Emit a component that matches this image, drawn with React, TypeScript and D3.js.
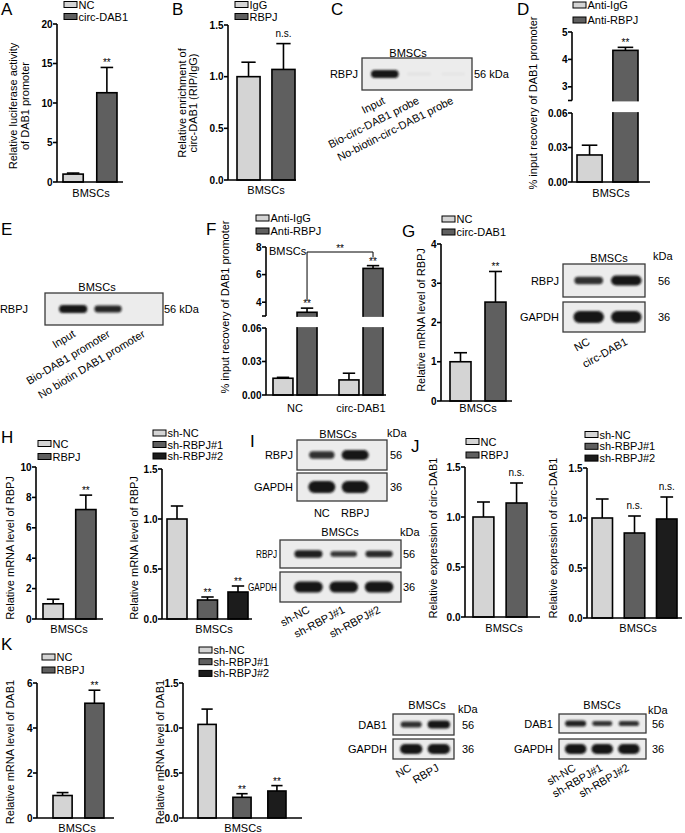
import React from "react";
import * as d3 from "d3";

const FONT = "'Liberation Sans', Arial, Helvetica, sans-serif";
const LIGHT = "#d4d4d4";
const DARK = "#5f5f5f";
const BLACK = "#1c1c1c";

// ---------- data ----------
const A_categories = ["NC", "circ-DAB1"];
const A_values = [1.0, 11.3];
const A_errors = [0.13, 3.2];
const A_sig = ["", "**"];
const A_ticks = [0, 5, 10, 15, 20];

const B_categories = ["IgG", "RBPJ"];
const B_values = [1.0, 1.07];
const B_errors = [0.14, 0.25];
const B_sig = ["", "n.s."];
const B_ticks = [0, 0.5, 1.0, 1.5];

const C_lanes = ["Input", "Bio-circ-DAB1 probe", "No-biotin-circ-DAB1 probe"];
const C_RBPJ = [1.0, 0.03, 0.02];

const D_categories = ["Anti-IgG", "Anti-RBPJ"];
const D_values = [0.0235, 4.33];
const D_errors = [0.0085, 0.11];
const D_sig = ["", "**"];
const D_lowTicks = [0, 0.03, 0.06];
const D_highTicks = [3, 4, 5];

const E_lanes = ["Input", "Bio-DAB1 promoter", "No biotin DAB1 promoter"];
const E_RBPJ = [1.0, 0.75, 0.0];

const F_groups = ["NC", "circ-DAB1"];
const F_series = ["Anti-IgG", "Anti-RBPJ"];
const F_IgG = [0.015, 0.0135];
const F_IgG_err = [0.0008, 0.006];
const F_RBPJ = [3.27, 6.45];
const F_RBPJ_err = [0.3, 0.2];
const F_lowTicks = [0, 0.03, 0.06];
const F_highTicks = [4, 6, 8];

const G_categories = ["NC", "circ-DAB1"];
const G_values = [1.0, 2.52];
const G_errors = [0.23, 0.78];
const G_sig = ["", "**"];
const G_ticks = [0, 1, 2, 3, 4];
const G_lanes = ["NC", "circ-DAB1"];
const G_RBPJ = [0.55, 1.0];
const G_GAPDH = [1.0, 1.0];

const H1_categories = ["NC", "RBPJ"];
const H1_values = [1.0, 7.2];
const H1_errors = [0.3, 0.95];
const H1_sig = ["", "**"];
const H1_ticks = [0, 2, 4, 6, 8, 10];

const H2_categories = ["sh-NC", "sh-RBPJ#1", "sh-RBPJ#2"];
const H2_values = [1.0, 0.19, 0.27];
const H2_errors = [0.13, 0.03, 0.06];
const H2_sig = ["", "**", "**"];
const H2_ticks = [0, 0.5, 1.0, 1.5];

const I1_lanes = ["NC", "RBPJ"];
const I1_RBPJ = [0.55, 1.0];
const I1_GAPDH = [1.0, 1.0];
const I2_lanes = ["sh-NC", "sh-RBPJ#1", "sh-RBPJ#2"];
const I2_RBPJ = [0.85, 0.45, 0.65];
const I2_GAPDH = [1.0, 1.0, 1.0];

const J1_categories = ["NC", "RBPJ"];
const J1_values = [1.0, 1.14];
const J1_errors = [0.15, 0.2];
const J1_sig = ["", "n.s."];
const J2_categories = ["sh-NC", "sh-RBPJ#1", "sh-RBPJ#2"];
const J2_values = [1.0, 0.85, 0.99];
const J2_errors = [0.19, 0.17, 0.22];
const J2_sig = ["", "n.s.", "n.s."];
const J_ticks = [0, 0.5, 1.0, 1.5];

const K1_categories = ["NC", "RBPJ"];
const K1_values = [1.0, 5.1];
const K1_errors = [0.13, 0.58];
const K1_sig = ["", "**"];
const K1_ticks = [0, 2, 4, 6];
const K2_categories = ["sh-NC", "sh-RBPJ#1", "sh-RBPJ#2"];
const K2_values = [1.04, 0.23, 0.3];
const K2_errors = [0.17, 0.04, 0.06];
const K2_sig = ["", "**", "**"];
const K2_ticks = [0, 0.5, 1.0, 1.5];
const K3_lanes = ["NC", "RBPJ"];
const K3_DAB1 = [0.55, 1.0];
const K3_GAPDH = [1.0, 1.0];
const K4_lanes = ["sh-NC", "sh-RBPJ#1", "sh-RBPJ#2"];
const K4_DAB1 = [0.8, 0.5, 0.55];
const K4_GAPDH = [1.0, 1.0, 1.0];

const COL2 = [LIGHT, DARK];
const COL3 = [LIGHT, DARK, BLACK];

// ---------- shared pieces ----------
function Legend({ items, colors, x, y, dy }: { items: string[]; colors: string[]; x: number; y: number; dy: number }) {
  return (
    <g>
      {items.map((t, i) => (
        <g key={t}>
          <rect x={x} y={y + i * dy - 3} width={13} height={6} fill={colors[i]} stroke="#000" strokeWidth={1} />
          <text x={x + 14.5} y={y + i * dy + 4} fontSize={11} fill="#000">{t}</text>
        </g>
      ))}
    </g>
  );
}

function YTitle({ lines, xs, cy }: { lines: string[]; xs: number[]; cy: number }) {
  return (
    <g>
      {lines.map((l, i) => (
        <text key={i} transform={`translate(${xs[i]},${cy}) rotate(-90)`} textAnchor="middle" fontSize={11} fill="#000">{l}</text>
      ))}
    </g>
  );
}

function Sig({ x, yTop, t }: { x: number; yTop: number; t: string }) {
  if (!t) return null;
  const isStar = t.includes("*");
  return (
    <text x={x} y={isStar ? yTop - 1 : yTop - 7} textAnchor="middle" fontSize={10} fill="#000">{t}</text>
  );
}

function ErrBar({ x, y1, y2, w }: { x: number; y1: number; y2: number; w: number }) {
  return (
    <g stroke="#000" strokeWidth={1.6}>
      <line x1={x} x2={x} y1={y1} y2={y2} />
      <line x1={x - w / 2} x2={x + w / 2} y1={y2} y2={y2} />
    </g>
  );
}

type BarProps = {
  categories: string[]; values: number[]; errors: number[]; sig: string[]; colors: string[];
  ticks: number[]; fmt: string; max: number;
  axisX: number; yTop: number; y0: number; xEnd: number; barRange: [number, number]; pad: number;
  legend: { x: number; y: number; dy: number };
  title: { lines: string[]; xs: number[]; cy: number };
  xlabel: { text: string; x: number; y: number };
};

function BarChart(p: BarProps) {
  const y = d3.scaleLinear().domain([0, p.max]).range([p.y0, p.yTop]);
  const x = d3.scaleBand<string>().domain(p.categories).range(p.barRange).paddingInner(p.pad).paddingOuter(0);
  const f = d3.format(p.fmt);
  const bw = x.bandwidth();
  return (
    <g>
      <Legend items={p.categories} colors={p.colors} x={p.legend.x} y={p.legend.y} dy={p.legend.dy} />
      <YTitle {...p.title} />
      {p.categories.map((c, i) => {
        const x0 = x(c)!;
        const cx = x0 + bw / 2;
        const top = y(p.values[i]);
        const et = y(p.values[i] + p.errors[i]);
        return (
          <g key={c}>
            <ErrBar x={cx} y1={top} y2={et} w={bw * 0.62} />
            <rect x={x0} y={top} width={bw} height={p.y0 - top} fill={p.colors[i]} stroke="#000" strokeWidth={1.6} />
            <Sig x={cx} yTop={et} t={p.sig[i]} />
          </g>
        );
      })}
      <g stroke="#000" strokeWidth={1.6}>
        <line x1={p.axisX} x2={p.axisX} y1={p.y0} y2={p.yTop} />
        <line x1={p.axisX} x2={p.xEnd} y1={p.y0} y2={p.y0} />
        {p.ticks.map((t) => (
          <line key={t} x1={p.axisX - 4} x2={p.axisX} y1={y(t)} y2={y(t)} />
        ))}
      </g>
      {p.ticks.map((t) => (
        <text key={t} x={p.axisX - 4.5} y={y(t) + 3.6} textAnchor="end" fontSize={10} fontWeight="bold" fill="#000">{f(t)}</text>
      ))}
      <text x={p.xlabel.x} y={p.xlabel.y} textAnchor="middle" fontSize={11} fill="#000">{p.xlabel.text}</text>
    </g>
  );
}

type BlotRow = { name: string; vals: number[]; y0: number; y1: number; kda: string; bandH: number; nameLen?: number };
type BlotProps = {
  lanes: string[]; laneRange: [number, number]; x0: number; x1: number; rows: BlotRow[];
  title: { x: number; y: number }; kdaHead?: { x: number; y: number }; kdaX: number; nameX: number;
  labels: { rotate: number; dx: number; dy: number };
};

function Blot(p: BlotProps) {
  const x = d3.scaleBand<string>().domain(p.lanes).range(p.laneRange).padding(0.1);
  const bw = x.bandwidth();
  const bottom = p.rows[p.rows.length - 1].y1;
  return (
    <g>
      <text x={p.title.x} y={p.title.y} textAnchor="middle" fontSize={11} fill="#000">BMSCs</text>
      {p.kdaHead && <text x={p.kdaHead.x} y={p.kdaHead.y} fontSize={11} fill="#000">kDa</text>}
      {p.rows.map((r) => {
        const cy = (r.y0 + r.y1) / 2;
        return (
          <g key={r.name + r.y0}>
            <rect x={p.x0} y={r.y0} width={p.x1 - p.x0} height={r.y1 - r.y0} fill="#ececec" stroke="#3a3a3a" strokeWidth={1.3} />
            {p.lanes.map((l, i) => {
              const v = r.vals[i];
              if (v <= 0.001) return null;
              const w = bw * (0.78 + 0.12 * v);
              const h = r.bandH * (0.4 + 0.6 * v);
              const cx = x(l)! + bw / 2;
              const op = v < 0.2 ? v * 1.2 : 0.72 + 0.28 * v;
              return (
                <rect key={l} x={cx - w / 2} y={cy - h / 2} width={w} height={h} rx={h / 2} ry={h / 2}
                  fill="#141414" opacity={op} filter="url(#bandblur)" />
              );
            })}
            {r.nameLen ? (
              <text x={p.nameX} y={cy + 4} textAnchor="end" fontSize={11} fill="#000"
                textLength={r.nameLen} lengthAdjust="spacingAndGlyphs">{r.name}</text>
            ) : (
              <text x={p.nameX} y={cy + 4} textAnchor="end" fontSize={11} fill="#000">{r.name}</text>
            )}
            <text x={p.kdaX} y={cy + 4} fontSize={11} fill="#000">{r.kda}</text>
          </g>
        );
      })}
      {p.lanes.map((l) => {
        const cx = x(l)! + bw / 2;
        if (p.labels.rotate === 0) {
          return <text key={l} x={cx} y={bottom + p.labels.dy} textAnchor="middle" fontSize={11} fill="#000">{l}</text>;
        }
        const ax = cx + p.labels.dx;
        const ay = bottom + p.labels.dy;
        return (
          <text key={l} transform={`translate(${ax},${ay}) rotate(${p.labels.rotate})`} textAnchor="end" fontSize={11} fill="#000">{l}</text>
        );
      })}
    </g>
  );
}

type BrokenProps = {
  axisX: number; y0: number; lowTop: number; highBottom: number; highTop: number;
  lowMax: number; highMin: number; highMax: number; lowTicks: number[]; highTicks: number[]; xEnd: number;
};

function BrokenAxis(p: BrokenProps & { lowFmt: string; highFmt: string }) {
  const yl = d3.scaleLinear().domain([0, p.lowMax]).range([p.y0, p.lowTop]);
  const yh = d3.scaleLinear().domain([p.highMin, p.highMax]).range([p.highBottom, p.highTop]);
  const fl = d3.format(p.lowFmt);
  const fh = d3.format(p.highFmt);
  return (
    <g>
      <g stroke="#000" strokeWidth={1.6}>
        <line x1={p.axisX} x2={p.axisX} y1={p.y0} y2={p.lowTop} />
        <line x1={p.axisX} x2={p.axisX} y1={p.highBottom} y2={p.highTop} />
        <line x1={p.axisX} x2={p.xEnd} y1={p.y0} y2={p.y0} />
        {p.lowTicks.map((t) => <line key={"l" + t} x1={p.axisX - 4} x2={p.axisX} y1={yl(t)} y2={yl(t)} />)}
        {[p.highMin, ...p.highTicks].map((t) => <line key={"h" + t} x1={p.axisX - 4} x2={p.axisX} y1={yh(t)} y2={yh(t)} />)}
      </g>
      {p.lowTicks.map((t) => (
        <text key={"lt" + t} x={p.axisX - 4.5} y={yl(t) + 3.6} textAnchor="end" fontSize={10} fontWeight="bold" fill="#000">{fl(t)}</text>
      ))}
      {p.highTicks.map((t) => (
        <text key={"ht" + t} x={p.axisX - 4.5} y={yh(t) + 3.6} textAnchor="end" fontSize={10} fontWeight="bold" fill="#000">{fh(t)}</text>
      ))}
    </g>
  );
}

function brokenScale(p: BrokenProps) {
  const yl = d3.scaleLinear().domain([0, p.lowMax]).range([p.y0, p.lowTop]);
  const yh = d3.scaleLinear().domain([p.highMin, p.highMax]).range([p.highBottom, p.highTop]);
  return (v: number) => (v > p.lowMax ? yh(v) : yl(v));
}

function PanelD() {
  const bp: BrokenProps = {
    axisX: 572, y0: 182, lowTop: 113, highBottom: 100.5, highTop: 32,
    lowMax: 0.06, highMin: 2.5, highMax: 5, lowTicks: D_lowTicks, highTicks: D_highTicks, xEnd: 650,
  };
  const y = brokenScale(bp);
  const x = d3.scaleBand<string>().domain(D_categories).range([577, 638]).paddingInner(0.3);
  const bw = x.bandwidth();
  return (
    <g>
      <Legend items={D_categories} colors={COL2} x={573} y={5} dy={15} />
      <YTitle lines={["% input recovery of DAB1 promoter"]} xs={[537]} cy={103} />
      {D_categories.map((c, i) => {
        const x0 = x(c)!;
        const cx = x0 + bw / 2;
        const top = y(D_values[i]);
        const et = y(D_values[i] + D_errors[i]);
        return (
          <g key={c}>
            <ErrBar x={cx} y1={top} y2={et} w={bw * 0.62} />
            <rect x={x0} y={top} width={bw} height={bp.y0 - top} fill={COL2[i]} stroke="#000" strokeWidth={1.6} />
            <Sig x={cx} yTop={et} t={D_sig[i]} />
          </g>
        );
      })}
      <rect x={574} y={bp.highBottom + 0.9} width={80} height={bp.lowTop - bp.highBottom - 1.8} fill="#fff" />
      <BrokenAxis {...bp} lowFmt=".2f" highFmt="d" />
      <text x={611} y={197} textAnchor="middle" fontSize={11} fill="#000">BMSCs</text>
    </g>
  );
}

function PanelF() {
  const bp: BrokenProps = {
    axisX: 266, y0: 395, lowTop: 328, highBottom: 316, highTop: 247,
    lowMax: 0.06, highMin: 3, highMax: 8, lowTicks: F_lowTicks, highTicks: F_highTicks, xEnd: 386,
  };
  const y = brokenScale(bp);
  const xg = d3.scaleBand<string>().domain(F_groups).range([273, 383]).paddingInner(0.333);
  const xs = d3.scaleBand<string>().domain(F_series).range([0, xg.bandwidth()]).paddingInner(0.17);
  const bw = xs.bandwidth();
  const seriesVals = [F_IgG, F_RBPJ];
  const seriesErr = [F_IgG_err, F_RBPJ_err];
  const rb = (g: number) => xg(F_groups[g])! + xs(F_series[1])! + bw / 2;
  const errTop = (g: number) => y(F_RBPJ[g] + F_RBPJ_err[g]);
  const bracketY = bp.highTop + 5;
  return (
    <g>
      <Legend items={F_series} colors={COL2} x={256} y={218} dy={13} />
      <YTitle lines={["% input recovery of DAB1 promoter"]} xs={[229]} cy={307} />
      {F_groups.map((g, gi) => (
        <g key={g}>
          {F_series.map((s, si) => {
            const x0 = xg(g)! + xs(s)!;
            const cx = x0 + bw / 2;
            const v = seriesVals[si][gi];
            const top = y(v);
            const et = y(v + seriesErr[si][gi]);
            return (
              <g key={s}>
                <ErrBar x={cx} y1={top} y2={et} w={bw * 0.62} />
                <rect x={x0} y={top} width={bw} height={bp.y0 - top} fill={COL2[si]} stroke="#000" strokeWidth={1.6} />
                {si === 1 && <Sig x={cx} yTop={et} t="**" />}
              </g>
            );
          })}
          <text x={xg(g)! + xg.bandwidth() / 2} y={412} textAnchor="middle" fontSize={11} fill="#000">{g}</text>
        </g>
      ))}
      <rect x={268} y={bp.highBottom + 0.9} width={120} height={bp.lowTop - bp.highBottom - 1.8} fill="#fff" />
      <BrokenAxis {...bp} lowFmt=".2f" highFmt="d" />
      <path d={`M${rb(0)},${errTop(0) - 8}V${bracketY}H${rb(1)}V${errTop(1) - 8}`} fill="none" stroke="#000" strokeWidth={1} />
      <text x={(rb(0) + rb(1)) / 2} y={bracketY - 0.5} textAnchor="middle" fontSize={10} fill="#000">**</text>
      <text x={269} y={255} fontSize={11} fill="#000">BMSCs</text>
    </g>
  );
}

function Letter({ t, x, y }: { t: string; x: number; y: number }) {
  return <text x={x} y={y} fontSize={17} fill="#000">{t}</text>;
}

export default function App() {
  return (
    <svg width={685} height={833} viewBox="0 0 685 833"
      style={{ position: "absolute", left: 0, top: 0, background: "#fff" }} fontFamily={FONT}>
      <defs>
        <filter id="bandblur" x="-20%" y="-60%" width="140%" height="220%">
          <feGaussianBlur stdDeviation="0.9" />
        </filter>
      </defs>
      <rect width={685} height={833} fill="#fff" />

      <Letter t="A" x={1} y={15} />
      <BarChart categories={A_categories} values={A_values} errors={A_errors} sig={A_sig} colors={COL2}
        ticks={A_ticks} fmt="d" max={20} axisX={57} yTop={24} y0={182} xEnd={123} barRange={[63, 117]} pad={0.4}
        legend={{ x: 64, y: 4.5, dy: 12 }}
        title={{ lines: ["Relative luciferase activity", "of DAB1 promoter"], xs: [17, 29], cy: 106 }}
        xlabel={{ text: "BMSCs", x: 91, y: 197 }} />

      <Letter t="B" x={172} y={15} />
      <BarChart categories={B_categories} values={B_values} errors={B_errors} sig={B_sig} colors={COL2}
        ticks={B_ticks} fmt=".1f" max={1.5} axisX={228} yTop={25} y0={180} xEnd={296} barRange={[237, 295]} pad={0.34}
        legend={{ x: 235, y: 4.5, dy: 12 }}
        title={{ lines: ["Relative enrichment of", "circ-DAB1 (RIP/IgG)"], xs: [186, 197], cy: 103 }}
        xlabel={{ text: "BMSCs", x: 266, y: 194 }} />

      <Letter t="C" x={331} y={15} />
      <Blot lanes={C_lanes} laneRange={[366, 472]} x0={362} x1={472}
        rows={[{ name: "RBPJ", vals: C_RBPJ, y0: 58, y1: 90, kda: "56 kDa", bandH: 8 }]}
        title={{ x: 408, y: 57 }} kdaX={474} nameX={358} labels={{ rotate: -27, dx: 1, dy: 13 }} />

      <Letter t="D" x={517} y={15} />
      <PanelD />

      <Letter t="E" x={1} y={235} />
      <Blot lanes={E_lanes} laneRange={[54, 162]} x0={45} x1={163}
        rows={[{ name: "RBPJ", vals: E_RBPJ, y0: 293, y1: 325, kda: "56 kDa", bandH: 8 }]}
        title={{ x: 97, y: 291 }} kdaX={164} nameX={28} labels={{ rotate: -31, dx: 3, dy: 11 }} />

      <Letter t="F" x={206} y={235} />
      <PanelF />

      <Letter t="G" x={402} y={237} />
      <BarChart categories={G_categories} values={G_values} errors={G_errors} sig={G_sig} colors={COL2}
        ticks={G_ticks} fmt="d" max={4} axisX={441} yTop={244} y0={401} xEnd={512} barRange={[450, 506]} pad={0.4}
        legend={{ x: 442, y: 219, dy: 13 }}
        title={{ lines: ["Relative mRNA level of RBPJ"], xs: [425], cy: 320 }}
        xlabel={{ text: "BMSCs", x: 478, y: 412 }} />
      <Blot lanes={G_lanes} laneRange={[568, 647]} x0={563} x1={645}
        rows={[
          { name: "RBPJ", vals: G_RBPJ, y0: 264, y1: 297, kda: "56", bandH: 10 },
          { name: "GAPDH", vals: G_GAPDH, y0: 302, y1: 332, kda: "36", bandH: 12 },
        ]}
        title={{ x: 609, y: 262 }} kdaHead={{ x: 653, y: 260 }} kdaX={658} nameX={559}
        labels={{ rotate: -29, dx: 2, dy: 12 }} />

      <Letter t="H" x={1} y={443} />
      <BarChart categories={H1_categories} values={H1_values} errors={H1_errors} sig={H1_sig} colors={COL2}
        ticks={H1_ticks} fmt="d" max={10} axisX={36} yTop={467} y0={619} xEnd={103} barRange={[43, 96]} pad={0.38}
        legend={{ x: 38, y: 443.5, dy: 13 }}
        title={{ lines: ["Relative mRNA level of RBPJ"], xs: [14], cy: 548 }}
        xlabel={{ text: "BMSCs", x: 69, y: 633 }} />
      <BarChart categories={H2_categories} values={H2_values} errors={H2_errors} sig={H2_sig} colors={COL3}
        ticks={H2_ticks} fmt=".1f" max={1.5} axisX={162} yTop={469} y0={619} xEnd={252} barRange={[167, 248]} pad={0.344}
        legend={{ x: 153, y: 433, dy: 11.5 }}
        title={{ lines: ["Relative mRNA level of RBPJ"], xs: [138], cy: 548 }}
        xlabel={{ text: "BMSCs", x: 214, y: 633 }} />

      <Letter t="I" x={250} y={447} />
      <Blot lanes={I1_lanes} laneRange={[303.5, 373.5]} x0={297} x1={387}
        rows={[
          { name: "RBPJ", vals: I1_RBPJ, y0: 440, y1: 470, kda: "56", bandH: 10 },
          { name: "GAPDH", vals: I1_GAPDH, y0: 473, y1: 501, kda: "36", bandH: 12 },
        ]}
        title={{ x: 338, y: 438 }} kdaHead={{ x: 387, y: 437 }} kdaX={390} nameX={293}
        labels={{ rotate: 0, dx: 0, dy: 16 }} />
      <Blot lanes={I2_lanes} laneRange={[289, 398.5]} x0={280} x1={401}
        rows={[
          { name: "RBPJ", vals: I2_RBPJ, y0: 540, y1: 568, kda: "56", bandH: 8, nameLen: 21 },
          { name: "GAPDH", vals: I2_GAPDH, y0: 572, y1: 602, kda: "36", bandH: 11, nameLen: 29 },
        ]}
        title={{ x: 340, y: 536 }} kdaHead={{ x: 400, y: 536 }} kdaX={403} nameX={277}
        labels={{ rotate: -28, dx: 2, dy: 10 }} />

      <Letter t="J" x={411} y={452} />
      <BarChart categories={J1_categories} values={J1_values} errors={J1_errors} sig={J1_sig} colors={COL2}
        ticks={J_ticks} fmt=".1f" max={1.5} axisX={465} yTop={467} y0={617} xEnd={540} barRange={[473, 527]} pad={0.37}
        legend={{ x: 466, y: 441.5, dy: 13.5 }}
        title={{ lines: ["Relative expression of circ-DAB1"], xs: [437], cy: 538 }}
        xlabel={{ text: "BMSCs", x: 504, y: 632 }} />
      <BarChart categories={J2_categories} values={J2_values} errors={J2_errors} sig={J2_sig} colors={COL3}
        ticks={J_ticks} fmt=".1f" max={1.5} axisX={587} yTop={468} y0={618} xEnd={682} barRange={[592, 677]} pad={0.364}
        legend={{ x: 585, y: 434.5, dy: 11.8 }}
        title={{ lines: ["Relative expression of circ-DAB1"], xs: [557], cy: 538 }}
        xlabel={{ text: "BMSCs", x: 638, y: 632 }} />

      <Letter t="K" x={1} y={650} />
      <BarChart categories={K1_categories} values={K1_values} errors={K1_errors} sig={K1_sig} colors={COL2}
        ticks={K1_ticks} fmt="d" max={6} axisX={37} yTop={683} y0={818} xEnd={114} barRange={[53, 104]} pad={0.4}
        legend={{ x: 42, y: 657, dy: 13 }}
        title={{ lines: ["Relative mRNA level of DAB1"], xs: [14], cy: 752 }}
        xlabel={{ text: "BMSCs", x: 77, y: 832 }} />
      <BarChart categories={K2_categories} values={K2_values} errors={K2_errors} sig={K2_sig} colors={COL3}
        ticks={K2_ticks} fmt=".1f" max={1.5} axisX={183} yTop={683} y0={818} xEnd={302} barRange={[198, 286]} pad={0.48}
        legend={{ x: 199, y: 650, dy: 11.7 }}
        title={{ lines: ["Relative mRNA level of DAB1"], xs: [164], cy: 752 }}
        xlabel={{ text: "BMSCs", x: 243, y: 832 }} />
      <Blot lanes={K3_lanes} laneRange={[396, 454]} x0={393} x1={454}
        rows={[
          { name: "DAB1", vals: K3_DAB1, y0: 714, y1: 735, kda: "56", bandH: 8 },
          { name: "GAPDH", vals: K3_GAPDH, y0: 739, y1: 759, kda: "36", bandH: 10 },
        ]}
        title={{ x: 427, y: 709 }} kdaHead={{ x: 458, y: 713 }} kdaX={462} nameX={387}
        labels={{ rotate: -30, dx: 1, dy: 11 }} />
      <Blot lanes={K4_lanes} laneRange={[561, 643.5]} x0={559} x1={646}
        rows={[
          { name: "DAB1", vals: K4_DAB1, y0: 714, y1: 733, kda: "56", bandH: 7 },
          { name: "GAPDH", vals: K4_GAPDH, y0: 739, y1: 759, kda: "36", bandH: 10 },
        ]}
        title={{ x: 602, y: 709 }} kdaHead={{ x: 648, y: 714 }} kdaX={652} nameX={553}
        labels={{ rotate: -30, dx: 1, dy: 11 }} />
    </svg>
  );
}
